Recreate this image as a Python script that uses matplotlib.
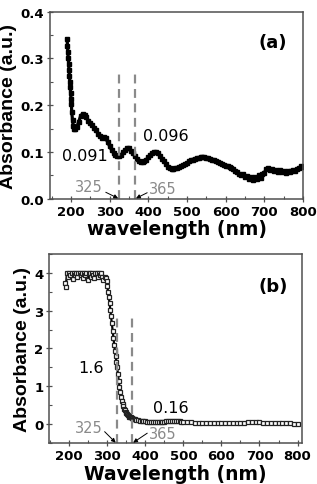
import numpy as np
import matplotlib
matplotlib.use("Agg")
import matplotlib.pyplot as plt
from matplotlib.ticker import MultipleLocator, FormatStrFormatter

# ---- panel (a) data ----
wl_a = [190, 191, 192, 193, 194, 195, 196, 197, 198, 199, 200, 201,
        202, 204, 206, 208, 210, 215, 220, 225, 230, 235, 240, 245, 250,
        255, 260, 265, 270, 275, 280, 285, 290, 295, 300, 305, 310, 315,
        320, 325, 330, 335, 340, 345, 350, 355, 360, 365, 370, 375, 380,
        385, 390, 395, 400, 405, 410, 415, 420, 425, 430, 435, 440, 445,
        450, 455, 460, 465, 470, 475, 480, 485, 490, 495, 500, 505, 510,
        515, 520, 525, 530, 535, 540, 545, 550, 555, 560, 565, 570, 575,
        580, 585, 590, 595, 600, 605, 610, 615, 620, 625, 630, 635, 640,
        645, 650, 655, 660, 665, 670, 675, 680, 685, 690, 695, 700, 705,
        710, 715, 720, 725, 730, 735, 740, 745, 750, 755, 760, 765, 770,
        775, 780, 785, 790, 795, 800]
abs_a = [0.342, 0.326, 0.313, 0.300, 0.288, 0.276, 0.262, 0.250, 0.238, 0.226, 0.214, 0.203,
         0.185, 0.168, 0.156, 0.150, 0.149, 0.153, 0.165, 0.177, 0.182, 0.180, 0.174, 0.167, 0.161,
         0.157, 0.152, 0.146, 0.139, 0.134, 0.131, 0.132, 0.129, 0.121, 0.112, 0.104, 0.098, 0.094,
         0.091, 0.091, 0.094, 0.100, 0.105, 0.108, 0.108, 0.103, 0.097, 0.091, 0.085, 0.080, 0.078,
         0.078, 0.080, 0.084, 0.089, 0.093, 0.097, 0.099, 0.099, 0.097, 0.092, 0.086, 0.080, 0.074,
         0.069, 0.066, 0.064, 0.064, 0.065, 0.066, 0.068, 0.070, 0.072, 0.075, 0.077, 0.080, 0.082,
         0.084, 0.086, 0.087, 0.088, 0.089, 0.089, 0.089, 0.088, 0.087, 0.086, 0.084, 0.082, 0.080,
         0.078, 0.076, 0.074, 0.072, 0.071, 0.070, 0.068, 0.066, 0.063, 0.060, 0.057, 0.054, 0.051,
         0.053, 0.046, 0.049, 0.042, 0.047, 0.040, 0.046, 0.043, 0.050, 0.044, 0.052, 0.056, 0.064,
         0.066, 0.061, 0.064, 0.059, 0.062, 0.058, 0.061, 0.057, 0.059, 0.056, 0.059, 0.057, 0.060,
         0.062, 0.060, 0.064, 0.066, 0.071, 0.068]

# ---- panel (b) data ----
wl_b = [188, 191, 194, 197, 200, 203, 206, 209, 212, 215, 218, 221, 224, 227, 230,
        233, 236, 239, 242, 245, 248, 251, 254, 257, 260, 263, 266, 269, 272, 275,
        278, 281, 284, 287, 290, 293, 296,
        298, 300, 302, 304, 306, 308, 310, 312, 314, 316, 318, 320, 322, 324, 326,
        328, 330, 332, 334, 336, 338, 340, 342, 344, 346, 348, 350, 352, 354, 356,
        358, 360, 362, 364, 366, 368, 370, 372,
        375, 380, 385, 390, 395, 400, 405, 410, 415, 420, 425, 430, 435, 440, 445,
        450, 455, 460, 465, 470, 475, 480, 485, 490, 495, 500, 510, 520, 530, 540,
        550, 560, 570, 580, 590, 600, 610, 620, 630, 640, 650, 660, 670, 680, 690,
        700, 710, 720, 730, 740, 750, 760, 770, 780, 790, 800]
abs_b = [3.72, 3.62, 4.00, 3.90, 4.00, 3.95, 4.00, 3.84, 4.00, 3.95, 4.00, 3.90, 4.00, 4.00, 3.95,
         4.00, 3.86, 4.00, 3.95, 4.00, 3.80, 4.00, 4.00, 3.90, 4.00, 3.95, 3.85, 4.00, 4.00, 3.90,
         4.00, 3.94, 4.00, 3.90, 3.80, 3.90, 3.86,
         3.78, 3.65, 3.50, 3.35, 3.20, 3.02, 2.85, 2.66, 2.47, 2.28, 2.10, 1.94, 1.80, 1.65, 1.50,
         1.32, 1.15, 0.98, 0.84, 0.72, 0.62, 0.54, 0.47, 0.41, 0.36, 0.32, 0.29, 0.26, 0.24, 0.22,
         0.20, 0.19, 0.175, 0.165, 0.155, 0.145, 0.135, 0.125,
         0.115, 0.105, 0.095, 0.085, 0.078, 0.070, 0.064, 0.060, 0.056, 0.054, 0.053, 0.053, 0.055, 0.058, 0.062,
         0.066, 0.070, 0.074, 0.078, 0.080, 0.080, 0.078, 0.074, 0.070, 0.066, 0.060, 0.052, 0.045, 0.040, 0.036,
         0.032, 0.030, 0.028, 0.027, 0.027, 0.028, 0.030, 0.032, 0.035, 0.038, 0.040, 0.042, 0.044, 0.045, 0.045,
         0.044, 0.042, 0.040, 0.038, 0.035, 0.032, 0.028, 0.024, 0.018, 0.010, 0.002]

band_lines = [325, 365]
bold = "DejaVu Sans"
grey = "#8a8a8a"


def style_axes(ax):
    for s in ax.spines.values():
        s.set_color("#505050")
        s.set_linewidth(1.1)
    ax.tick_params(which="major", direction="inout", length=5, width=0.9,
                   color="#505050", labelsize=9.5, pad=2)
    ax.tick_params(which="minor", direction="in", length=2.5, width=0.8, color="#505050")
    ax.tick_params(top=False, right=False, which="both")
    for lab in ax.get_xticklabels() + ax.get_yticklabels():
        lab.set_fontweight("bold")
        lab.set_family(bold)


def arrow_label(ax, txt, tip, start, tail):
    # grey wavelength label with a thin black arrow down to the axis
    ax.text(start[0], start[1], txt, color=grey, fontsize=10.5, ha="center", va="center")
    ax.annotate("", xy=tip, xytext=tail,
                arrowprops=dict(arrowstyle="-|>", color="black", lw=0.7,
                                mutation_scale=6, shrinkA=0, shrinkB=0))


fig = plt.figure(figsize=(3.17, 4.85), dpi=100)

# ---------------- (a) ----------------
ax1 = fig.add_axes([0.158, 0.588, 0.798, 0.386])
ax1.plot(wl_a, abs_a, color="black", lw=2.3, marker="s", ms=2.6, mec="black", mfc="black")
ax1.set_xlim(146, 800)
ax1.set_ylim(0, 0.4)
ax1.xaxis.set_major_locator(MultipleLocator(100))
ax1.xaxis.set_minor_locator(MultipleLocator(50))
ax1.yaxis.set_major_locator(MultipleLocator(0.1))
ax1.yaxis.set_minor_locator(MultipleLocator(0.05))
ax1.yaxis.set_major_formatter(FormatStrFormatter("%.1f"))
for x in band_lines:
    ax1.plot([x, x], [0, 0.27], color=grey, lw=1.6, dashes=(4, 2.5))
ax1.text(722, 0.335, "(a)", fontsize=13, fontweight="bold", family=bold, ha="center", va="center")
ax1.text(236, 0.0926, "0.091", fontsize=11.5, ha="center", va="center")
ax1.text(445, 0.135, "0.096", fontsize=11.5, ha="center", va="center")
arrow_label(ax1, "325", (322, 0.001), (246, 0.026), (290, 0.014))
arrow_label(ax1, "365", (368, 0.001), (437, 0.021), (397, 0.013))
ax1.set_xlabel("wavelength (nm)", fontsize=13.5, fontweight="bold", family=bold, labelpad=1)
ax1.set_ylabel("Absorbance (a.u.)", fontsize=14, fontweight="bold",
               family="Liberation Sans", labelpad=2)
style_axes(ax1)

# ---------------- (b) ----------------
ax2 = fig.add_axes([0.156, 0.0845, 0.797, 0.39])
ax2.plot(wl_b, abs_b, color="black", lw=1.6, marker="s", ms=3.4, mec="#222222",
         mfc="white", mew=0.9)
ax2.set_xlim(148, 812)
ax2.set_ylim(-0.5, 4.5)
ax2.xaxis.set_major_locator(MultipleLocator(100))
ax2.xaxis.set_minor_locator(MultipleLocator(50))
ax2.yaxis.set_major_locator(MultipleLocator(1))
ax2.yaxis.set_minor_locator(MultipleLocator(0.5))
for x in band_lines:
    ax2.plot([x, x], [-0.5, 2.85], color=grey, lw=1.6, dashes=(4, 2.5))
ax2.text(735, 3.65, "(b)", fontsize=13, fontweight="bold", family=bold, ha="center", va="center")
ax2.text(257, 1.5, "1.6", fontsize=11.5, ha="center", va="center")
ax2.text(466, 0.45, "0.16", fontsize=11.5, ha="center", va="center")
arrow_label(ax2, "325", (322, -0.49), (251, -0.08), (293, -0.2))
arrow_label(ax2, "365", (368, -0.49), (445, -0.26), (405, -0.24))
ax2.set_xlabel("Wavelength (nm)", fontsize=13.5, fontweight="bold", family=bold, labelpad=1)
ax2.set_ylabel("Absorbance (a.u.)", fontsize=14, fontweight="bold",
               family="Liberation Sans", labelpad=2)
style_axes(ax2)

fig.savefig("out.png", dpi=100)
